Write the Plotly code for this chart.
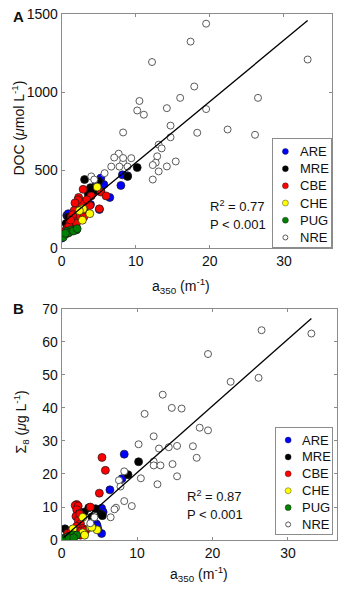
import plotly.graph_objects as go

W, H = 340, 599
FONT = "Liberation Sans, Arial, sans-serif"

# ---------------- data: panel A (DOC vs a350) ----------------
a_are_x = [0.0, 0.1, 0.7, 0.9, 4.2, 5.1, 5.3, 5.3, 5.7, 6.5, 8.0, 8.2, 8.9, 4.6, 3.9]
a_are_y = [64, 75, 210, 221, 356, 248, 450, 367, 408, 325, 402, 470, 464, 400, 280]
a_mre_x = [0.6, 0.9, 3.1, 3.5, 3.6, 3.9, 4.0, 5.0, 8.9, 10.2, 2.5, 4.5, 4.0]
a_mre_y = [158, 200, 440, 294, 346, 388, 340, 429, 460, 517, 300, 370, 377]
a_cbe_x = [2.3, 2.7, 3.1, 2.0, 2.2, 1.7, 1.3, 2.0, 1.6, 1.1, 0.7, 4.0, 5.3, 6.0, 5.1,
           2.9, 3.8, 2.7, 2.2, 1.5, 2.5, 1.0, 0.5, 1.8, 3.4, 2.0, 1.2, 2.8, 0.8, 3.0]
a_cbe_y = [325, 294, 262, 273, 231, 242, 200, 189, 158, 164, 127, 335, 360, 335, 252,
           377, 273, 283, 310, 215, 205, 140, 110, 290, 310, 160, 180, 240, 95, 200]
a_che_x = [4.8, 3.8, 2.8, 2.9, 2.4]
a_che_y = [392, 221, 179, 252, 240]
a_pug_x = [1.3, 0.7, 2.0, 0.4, 0.2, 1.0, 1.6, 0.5, 2.1]
a_pug_y = [117, 106, 117, 85, 69, 100, 110, 95, 125]
a_nre_x = [33.2, 19.5, 17.4, 12.2, 17.9, 16.0, 26.5, 10.5, 10.2, 11.1, 14.2, 19.5, 14.7,
           8.3, 14.7, 18.3, 22.4, 26.1, 13.1, 13.5, 7.7, 7.1, 8.3, 9.4, 12.9, 12.7, 15.4,
           8.3, 7.8, 8.9, 6.7, 5.8, 4.0, 4.4, 12.3, 13.1, 12.3, 14.2]
a_nre_y = [1210, 1440, 1325, 1194, 1037, 964, 964, 944, 883, 856, 898, 892, 786,
           742, 711, 740, 761, 727, 664, 640, 606, 581, 550, 577, 589, 548, 556,
           578, 523, 523, 523, 481, 460, 440, 533, 492, 440, 524]
a_fit = (39.3, 155.0)          # slope, intercept
a_stats = ("0.77", "0.001")

# ---------------- data: panel B (Sigma8 vs a350) ----------------
b_are_x = [8.3, 6.4, 5.3, 4.6, 4.8, 5.3, 8.0, 4.7, 5.5, 0.3, 1.0]
b_are_y = [26.0, 15.2, 9.6, 4.9, 3.4, 2.0, 18.6, 4.4, 8.5, 0.5, 1.0]
b_mre_x = [10.2, 8.8, 5.2, 3.6, 5.4, 0.45, 0.8, 3.0, 4.5, 4.0]
b_mre_y = [23.7, 19.8, 7.9, 9.8, 7.4, 3.4, 2.5, 8.5, 9.5, 7.0]
b_cbe_x = [5.35, 5.8, 5.0, 3.8, 2.0, 2.2, 1.8, 2.2, 2.0, 2.3, 1.9, 2.2, 2.5, 2.0, 2.8,
           1.5, 2.2, 3.0, 1.2, 0.8, 1.0, 2.5, 3.2, 2.6, 2.4, 1.3, 3.0]
b_cbe_y = [25.0, 21.1, 14.2, 10.0, 10.8, 8.8, 10.5, 10.3, 9.2, 8.0, 7.2, 6.0, 5.0, 4.2, 3.5,
           3.0, 2.5, 2.0, 2.5, 2.0, 1.2, 1.5, 3.0, 2.8, 7.9, 2.5, 2.9]
b_che_x = [2.8, 3.8, 4.7, 2.8, 1.5, 4.0, 3.05]
b_che_y = [6.9, 3.9, 3.1, 2.2, 3.4, 3.9, 1.5]
b_pug_x = [0.2, 0.5, 0.8, 1.2, 1.5, 2.0, 0.4, 1.0, 1.6]
b_pug_y = [0.3, 0.6, 1.0, 1.2, 1.6, 1.5, 0.2, 0.5, 0.7]
b_nre_x = [33.1, 26.5, 19.4, 22.4, 26.1, 13.4, 14.6, 15.9, 11.0, 18.3, 19.4, 12.2, 10.2,
           12.9, 14.2, 15.3, 17.4, 17.9, 12.2, 12.2, 13.1, 14.7, 15.3, 10.5, 8.3, 7.6,
           12.7, 9.3, 8.3, 7.2, 7.0, 6.5, 7.8, 3.8, 4.35]
b_nre_y = [62.5, 63.5, 56.3, 47.9, 49.1, 44.0, 40.0, 39.8, 38.2, 34.0, 33.2, 31.4, 29.0,
           27.7, 28.1, 28.5, 28.4, 24.9, 23.8, 22.6, 22.6, 23.0, 19.3, 18.7, 20.8, 18.1,
           16.9, 10.3, 11.8, 9.8, 9.3, 6.9, 16.2, 5.1, 6.9]
b_fit = (2.02, 0.2)
b_stats = ("0.87", "0.001")

groups = ["ARE", "MRE", "CBE", "CHE", "PUG", "NRE"]
colors = {"ARE": "#0000ff", "MRE": "#000000", "CBE": "#ff0000",
          "CHE": "#ffff00", "PUG": "#008000", "NRE": "#ffffff"}

panelA = {"ARE": (a_are_x, a_are_y), "MRE": (a_mre_x, a_mre_y), "CBE": (a_cbe_x, a_cbe_y),
          "CHE": (a_che_x, a_che_y), "PUG": (a_pug_x, a_pug_y), "NRE": (a_nre_x, a_nre_y)}
panelB = {"ARE": (b_are_x, b_are_y), "MRE": (b_mre_x, b_mre_y), "CBE": (b_cbe_x, b_cbe_y),
          "CHE": (b_che_x, b_che_y), "PUG": (b_pug_x, b_pug_y), "NRE": (b_nre_x, b_nre_y)}


def fx(p):
    return p / W


def fy(p):
    return 1 - p / H


def marker_style(g, size, lw):
    if g == "NRE":
        return dict(size=size - 1, color="white", line=dict(color="#5a5a5a", width=1))
    return dict(size=size, color=colors[g], line=dict(color="#1a1a1a", width=lw))


fig = go.Figure()
ann = []

for data, xa, ya, fit in [(panelA, "x", "y", a_fit), (panelB, "x2", "y2", b_fit)]:
    for g in groups:
        xs, ys = data[g]
        fig.add_trace(go.Scatter(x=xs, y=ys, mode="markers", name=g,
                                 marker=marker_style(g, 8, 0.7),
                                 xaxis=xa, yaxis=ya, showlegend=False))
    allx = [v for g in groups for v in data[g][0]]
    x0, x1 = min(allx), max(allx)
    fig.add_trace(go.Scatter(x=[x0, x1], y=[fit[1] + fit[0] * x0, fit[1] + fit[0] * x1],
                             mode="lines", line=dict(color="black", width=1.3),
                             showlegend=False, xaxis=xa, yaxis=ya, hoverinfo="skip"))

# legend panels (one per subplot): swatch column + label column, one row per group
LEG_SWATCH_X, LEG_TEXT_X = 0.22, 0.43
rows = list(range(len(groups)))
for xa, ya in [("x3", "y3"), ("x4", "y4")]:
    for i, g in enumerate(groups):
        fig.add_trace(go.Scatter(x=[LEG_SWATCH_X], y=[rows[i]], mode="markers",
                                 marker=marker_style(g, 6, 0.4), xaxis=xa, yaxis=ya,
                                 showlegend=False, hoverinfo="skip"))
        ann.append(dict(text=g, x=LEG_TEXT_X, y=rows[i], xref=xa, yref=ya,
                        showarrow=False, xanchor="left", yanchor="middle",
                        font=dict(family=FONT, size=13, color="#111")))

axis_common = dict(showline=True, linecolor="#8c8c8c", linewidth=1, mirror="ticks",
                   ticks="inside", ticklen=3, tickcolor="#8c8c8c", showgrid=False,
                   zeroline=False, tickfont=dict(family=FONT, size=14, color="#111"))
leg_axis = dict(showline=True, linecolor="#8c8c8c", linewidth=1, mirror=True,
                showticklabels=False, ticks="", showgrid=False, zeroline=False,
                fixedrange=True)

fig.update_layout(
    width=W, height=H, margin=dict(l=0, r=0, t=0, b=0),
    paper_bgcolor="white", plot_bgcolor="white",
    font=dict(family=FONT, size=13, color="#111"),
    showlegend=False,
    xaxis=dict(domain=[fx(58.3), fx(332)], range=[0, 36.5], tickvals=[0, 10, 20, 30],
               anchor="y", **axis_common),
    yaxis=dict(domain=[fy(246.7), fy(6.5)], range=[0, 1500], tickvals=[0, 500, 1000, 1500],
               anchor="x", **axis_common),
    xaxis2=dict(domain=[fx(58.3), fx(337)], range=[0, 36.5], tickvals=[0, 10, 20, 30],
                anchor="y2", **axis_common),
    yaxis2=dict(domain=[fy(546.7), fy(309)], range=[0, 70],
                tickvals=[0, 10, 20, 30, 40, 50, 60, 70], anchor="x2", **axis_common),
    xaxis3=dict(domain=[fx(271.7), fx(331)], range=[0, 1], anchor="y3", **leg_axis),
    yaxis3=dict(domain=[fy(246), fy(135)], range=[5.58, -0.70], anchor="x3", **leg_axis),
    xaxis4=dict(domain=[fx(275), fx(332)], range=[0, 1], anchor="y4", **leg_axis),
    yaxis4=dict(domain=[fy(540), fy(432)], range=[5.54, -0.69], anchor="x4", **leg_axis),
)


def add_text(text, x, y, xanchor="center", size=13, angle=0, bold=False):
    ann.append(dict(text=("<b>%s</b>" % text) if bold else text, x=fx(x), y=fy(y),
                    xref="paper", yref="paper", showarrow=False, xanchor=xanchor,
                    yanchor="middle", textangle=angle,
                    font=dict(family=FONT, size=size, color="#111")))


add_text("A", 7, 9, xanchor="left", size=15, bold=True)
add_text("B", 7, 309, xanchor="left", size=15, bold=True)
add_text("DOC (<i>μ</i>mol L<sup>-1</sup>)", 14, 123, angle=-90, size=14)
add_text("Σ<sub>8</sub> (<i>μ</i>g L<sup>-1</sup>)", 17, 425, angle=-90, size=14)
add_text("a<sub>350</sub> (m<sup>-1</sup>)", 179, 286, size=14)
add_text("a<sub>350</sub> (m<sup>-1</sup>)", 197, 582, size=14)
add_text("R<sup>2</sup> = %s" % a_stats[0], 206, 203, xanchor="left")
add_text("P < %s" % a_stats[1], 206, 222, xanchor="left")
add_text("R<sup>2</sup> = %s" % b_stats[0], 183, 501, xanchor="left")
add_text("P < %s" % b_stats[1], 183, 520, xanchor="left")
fig.update_layout(annotations=ann)

fig.write_html("out.html", config={"displayModeBar": False},
               post_script="document.body.style.margin='0';"
                           "document.body.style.overflow='hidden';")
